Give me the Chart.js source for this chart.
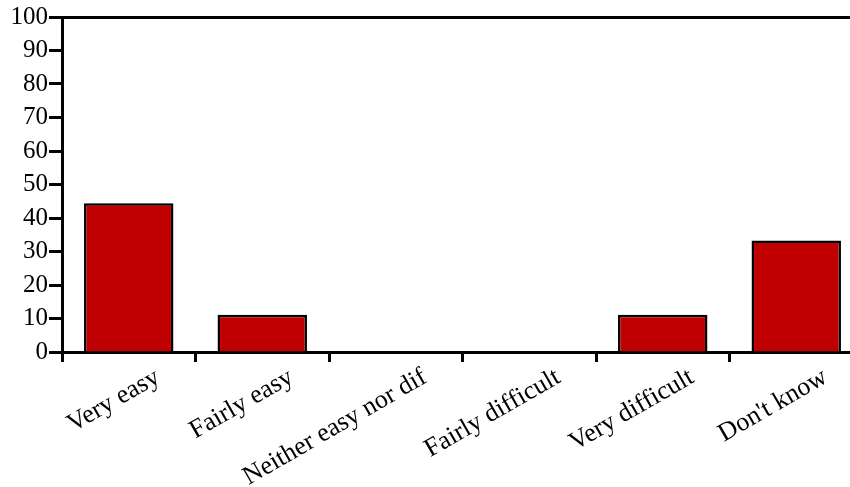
<!DOCTYPE html>
<html>
<head>
<meta charset="utf-8">
<script src="https://cdn.jsdelivr.net/npm/chart.js@4"></script>
<style>
  html, body { margin: 0; padding: 0; background: #fff; overflow: hidden; }
  #wrap { width: 850px; height: 487px; overflow: hidden; }
</style>
</head>
<body>
<div id="wrap"><canvas id="chart" width="880" height="487"></canvas></div>
<script>
// Data
const categories = ['Very easy', 'Fairly easy', 'Neither easy nor dif', 'Fairly difficult', 'Very difficult', "Don't know"];
const percentages = [44.4, 11.1, 0, 0, 11.1, 33.3];
const yTicks = [0, 10, 20, 30, 40, 50, 60, 70, 80, 90, 100];

const serif = "'Liberation Serif', 'Times New Roman', serif";

const ctx = document.getElementById('chart').getContext('2d');

new Chart(ctx, {
    type: 'bar',
    data: {
        labels: categories,
        datasets: [{
            data: percentages,
            backgroundColor: '#c00000',
            borderColor: '#000',
            borderWidth: 2.5,
            borderSkipped: 'bottom',
            barPercentage: 0.67,
            categoryPercentage: 1
        }]
    },
    options: {
        responsive: false,
        animation: false,
        layout: { padding: { left: 0, right: 17, top: 0, bottom: 0 } },
        plugins: { legend: { display: false }, tooltip: { enabled: false } },
        scales: {
            x: {
                position: 'bottom',
                grid: { display: true, drawOnChartArea: false, offset: true, tickLength: 10, tickWidth: 3, color: '#000' },
                border: { display: true, color: '#000', width: 3 },
                ticks: {
                    color: '#000',
                    font: { family: serif, size: 26 },
                    maxRotation: 30,
                    minRotation: 30,
                    autoSkip: false,
                    padding: 0,
                    labelOffset: 29
                },
                afterFit: (scale) => { scale.height = 135; }
            },
            // top frame line
            xTop: {
                position: 'top',
                type: 'category',
                grid: { display: false },
                ticks: { display: false },
                border: { display: true, color: '#000', width: 3 },
                afterFit: (scale) => { scale.height = 17; }
            },
            y: {
                min: 0,
                max: 100,
                afterBuildTicks: (scale) => { scale.ticks = yTicks.map(v => ({ value: v })); },
                grid: { display: true, drawOnChartArea: false, tickLength: 13, tickWidth: 3, color: '#000' },
                border: { display: true, color: '#000', width: 3 },
                ticks: {
                    color: '#000',
                    font: { family: serif, size: 25 },
                    padding: 1,
                    autoSkip: false
                },
                afterFit: (scale) => { scale.width = 62; }
            }
        }
    }
});
</script>
</body>
</html>
